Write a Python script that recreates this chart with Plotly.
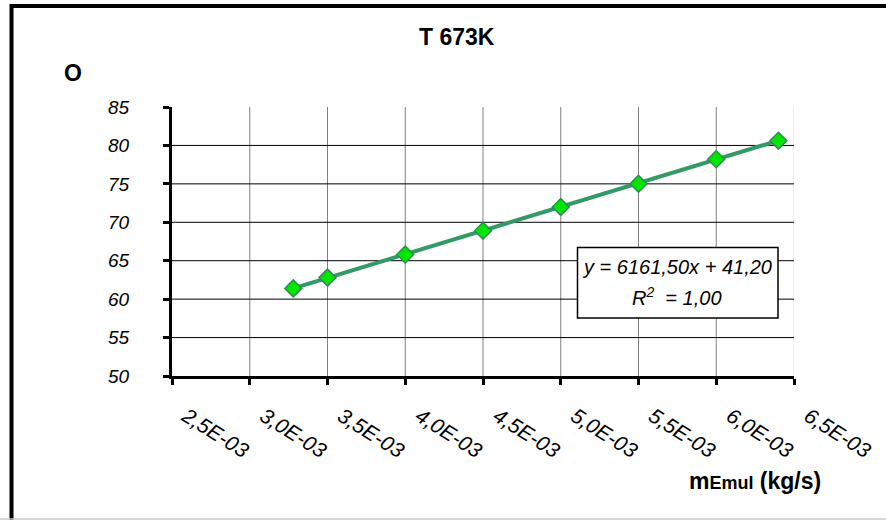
import plotly.graph_objects as go

# Emulsion mass flow (kg/s) and measured O at T = 673 K
m_emul = [3.28e-3, 3.5e-3, 4.0e-3, 4.5e-3, 5.0e-3, 5.5e-3, 6.0e-3, 6.4e-3]
o_vals = [61.4, 62.8, 65.8, 68.9, 72.0, 75.0, 78.2, 80.6]

# Linear trend line coefficients
trend_slope = 6161.50
trend_intercept = 41.20
trend_r2 = 1.00

x_tick_vals = [2.5e-3, 3.0e-3, 3.5e-3, 4.0e-3, 4.5e-3, 5.0e-3, 5.5e-3, 6.0e-3, 6.5e-3]
x_tick_text = ["2,5E-03", "3,0E-03", "3,5E-03", "4,0E-03", "4,5E-03",
               "5,0E-03", "5,5E-03", "6,0E-03", "6,5E-03"]
y_tick_vals = [50, 55, 60, 65, 70, 75, 80, 85]

W, H = 886, 520
L, R, T, B = 172, 92, 107, 144
PW, PH = W - L - R, H - T - B


def px(x):
    return (x - L) / PW


def py(y):
    return (H - B - y) / PH


FONT = "Arial, Liberation Sans, sans-serif"

fig = go.Figure()

# trend line over the measured range
x_line = [m_emul[0], m_emul[-1]]
y_line = [trend_slope * v + trend_intercept for v in x_line]
fig.add_trace(go.Scatter(
    x=x_line, y=y_line, mode="lines",
    line=dict(color="#339966", width=4),
    hoverinfo="skip", showlegend=False,
))
fig.add_trace(go.Scatter(
    x=m_emul, y=o_vals, mode="markers",
    marker=dict(symbol="diamond", size=13, color="#00e600",
                line=dict(color="#2e8b57", width=1.5)),
    showlegend=False,
))

shapes = []
# vertical grid lines
for v in x_tick_vals[1:]:
    shapes.append(dict(type="line", xref="x", yref="y", x0=v, x1=v,
                       y0=y_tick_vals[0], y1=y_tick_vals[-1], layer="below",
                       line=dict(color="#dddddd" if v == x_tick_vals[-1] else "#808080", width=1)))
# horizontal grid lines
for v in y_tick_vals[1:-1]:
    shapes.append(dict(type="line", xref="x", yref="y", y0=v, y1=v,
                       x0=x_tick_vals[0], x1=x_tick_vals[-1], layer="below",
                       line=dict(color="#000000", width=1)))
# outer chart frame
shapes.append(dict(type="rect", xref="paper", yref="paper",
                   x0=px(11.5), x1=px(905), y0=py(6), y1=py(540),
                   line=dict(color="black", width=4)))
shapes.append(dict(type="line", xref="paper", yref="paper",
                   x0=px(0), x1=px(886), y0=py(519), y1=py(519),
                   line=dict(color="#c8c8c8", width=1.5)))
# equation box
shapes.append(dict(type="rect", xref="paper", yref="paper",
                   x0=px(577.5), x1=px(778), y0=py(318), y1=py(247.5),
                   fillcolor="white", line=dict(color="black", width=1.5)))

eq_line1 = "y = {}x + {}".format(f"{trend_slope:.2f}".replace(".", ","),
                                  f"{trend_intercept:.2f}".replace(".", ","))
eq_line2 = "R<sup>2</sup>  = {}".format(f"{trend_r2:.2f}".replace(".", ","))


def label(text, x, y, size, style="normal"):
    return dict(text=text, x=px(x), y=py(y), xref="paper", yref="paper",
                xanchor="center", yanchor="middle", showarrow=False,
                font=dict(family=FONT, size=size, color="black", style=style))


annotations = [
    label("<b>T 673K</b>", 457, 37, 23),
    label("<b>O</b>", 73, 73, 23),
    label("<b>m<span style='font-size:18px'>Emul</span> (kg/s)</b>", 755, 481, 23),
    label(eq_line1, 677, 267, 20, "italic"),
    label(eq_line2, 677, 296, 20, "italic"),
]

fig.update_layout(
    width=W, height=H,
    margin=dict(l=L, r=R, t=T, b=B),
    paper_bgcolor="white", plot_bgcolor="white",
    shapes=shapes, annotations=annotations,
    xaxis=dict(range=[x_tick_vals[0], x_tick_vals[-1]], tickvals=x_tick_vals,
               ticktext=x_tick_text, tickangle=32, showgrid=False, zeroline=False,
               showline=True, linecolor="black", linewidth=3,
               ticks="outside", ticklen=6, tickwidth=2.5, tickcolor="black",
               ticklabelstandoff=11, ticklabelshift=14,
               tickfont=dict(family=FONT, size=21, color="black", style="italic")),
    yaxis=dict(range=[y_tick_vals[0], y_tick_vals[-1]], tickvals=y_tick_vals,
               showgrid=False, zeroline=False,
               showline=True, linecolor="black", linewidth=3,
               ticks="outside", ticklen=6, tickwidth=2.5, tickcolor="black",
               ticklabelstandoff=30,
               tickfont=dict(family=FONT, size=19, color="black", style="italic")),
)

fig.write_html("out.html")
